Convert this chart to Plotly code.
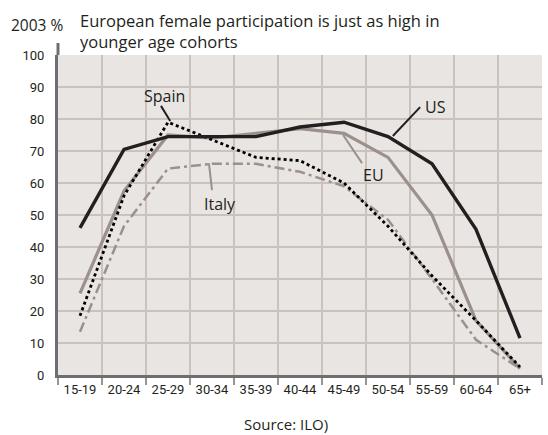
import plotly.graph_objects as go

age_groups = ["15-19", "20-24", "25-29", "30-34", "35-39", "40-44",
              "45-49", "50-54", "55-59", "60-64", "65+"]
us = [46, 70.5, 74.5, 74.5, 74.5, 77.5, 79, 74.5, 66, 45.5, 11.5]
eu = [25.5, 57.5, 75, 74, 75.5, 77, 75.5, 68, 50, 17, 2]
spain = [18.5, 56, 79, 73.5, 68, 67, 60, 46.5, 31, 17, 2.5]
italy = [13.5, 46.5, 64.5, 66, 66, 63.5, 59, 48.5, 30, 11, 2]
y_ticks = [0, 10, 20, 30, 40, 50, 60, 70, 80, 90, 100]

title_left = "2003 %"
title_line1 = "European female participation is just as high in"
title_line2 = "younger age cohorts"
source = "Source: ILO)"

GRAY = "#9b908b"
BLACK = "#231f20"
TICKFONT = dict(family="Roboto, sans-serif", size=13, color="#231f20")
TXTFONT = dict(family="Open Sans, sans-serif", size=16, color="#231f20")


def px_x(px):
    return (px - 58) / 484


def px_y(py):
    return (375 - py) / 320


fig = go.Figure()
fig.add_trace(go.Scatter(x=age_groups, y=italy, mode="lines", name="Italy",
                         line=dict(color=GRAY, width=2.5, dash="10px,4px,3px,4px")))
fig.add_trace(go.Scatter(x=age_groups, y=eu, mode="lines", name="EU",
                         line=dict(color=GRAY, width=3.2)))
fig.add_trace(go.Scatter(x=age_groups, y=spain, mode="lines", name="Spain",
                         line=dict(color="#000000", width=2.8, dash="3px,3px")))
fig.add_trace(go.Scatter(x=age_groups, y=us, mode="lines", name="US",
                         line=dict(color=BLACK, width=3.4)))

# series labels with leader lines (data coordinates: category index, value)
labels = [
    ("Spain", 1.91, 87.3, (1.84, 84.1), (2.05, 79.4)),
    ("US", 8.07, 83.6, (7.73, 83.7), (7.11, 74.7)),
    ("EU", 6.66, 62.5, (6.41, 66.2), (5.98, 75.0)),
    ("Italy", 3.19, 53.3, (3.0, 57.8), (2.93, 66.2)),
]
for text, tx, ty, p0, p1 in labels:
    fig.add_annotation(x=tx, y=ty, xref="x", yref="y", text=text, showarrow=False,
                       font=TXTFONT, xanchor="center", yanchor="middle")
    color = GRAY if text in ("EU", "Italy") else BLACK
    fig.add_shape(type="line", xref="x", yref="y", x0=p0[0], y0=p0[1], x1=p1[0], y1=p1[1],
                  line=dict(color=color, width=2))

fig.add_annotation(x=px_x(9), y=px_y(24.5), xref="paper", yref="paper", text=title_left,
                   showarrow=False, xanchor="left", yanchor="middle",
                   font=dict(family="Open Sans, sans-serif", size=15.5, color="#231f20"))
fig.add_annotation(x=px_x(78), y=px_y(20.5), xref="paper", yref="paper", text=title_line1,
                   showarrow=False, xanchor="left", yanchor="middle",
                   font=dict(family="Open Sans, sans-serif", size=16.5, color="#231f20"))
fig.add_annotation(x=px_x(78), y=px_y(41.5), xref="paper", yref="paper", text=title_line2,
                   showarrow=False, xanchor="left", yanchor="middle",
                   font=dict(family="Open Sans, sans-serif", size=16.5, color="#231f20"))
fig.add_annotation(x=px_x(286), y=px_y(424), xref="paper", yref="paper", text=source,
                   showarrow=False, xanchor="center", yanchor="middle",
                   font=dict(family="Open Sans, sans-serif", size=15, color="#231f20"))

# left axis line extends a little above the plot area
fig.add_shape(type="line", xref="paper", yref="paper", x0=0, x1=0, y0=1, y1=px_y(43),
              line=dict(color="#6d6e71", width=3))

fig.update_layout(
    width=548, height=435,
    margin=dict(l=58, r=6, t=55, b=60, autoexpand=False),
    paper_bgcolor="white",
    plot_bgcolor="#e8e5e2",
    showlegend=False,
    xaxis=dict(type="category", categoryorder="array", categoryarray=age_groups,
               range=[-0.5, 10.5], tickson="boundaries", showgrid=True,
               gridcolor="#cbc2bd", gridwidth=1.5, ticks="outside", ticklen=7,
               tickwidth=1.5, tickcolor="#9a9290", showline=True, linecolor="#6d6e71",
               linewidth=3, tickfont=TICKFONT, tickangle=0, zeroline=False,
               automargin=False, fixedrange=True),
    yaxis=dict(range=[0, 100], tickvals=y_ticks, showgrid=True, gridcolor="#cbc2bd",
               gridwidth=1.5, showline=True, linecolor="#6d6e71", linewidth=3,
               ticks="", tickfont=TICKFONT, zeroline=False, ticklabelstandoff=8,
               automargin=False, fixedrange=True),
)

fig.write_html("out.html", config={"displayModeBar": False},
               post_script="document.body.style.margin='0';document.body.style.overflow='hidden';")
